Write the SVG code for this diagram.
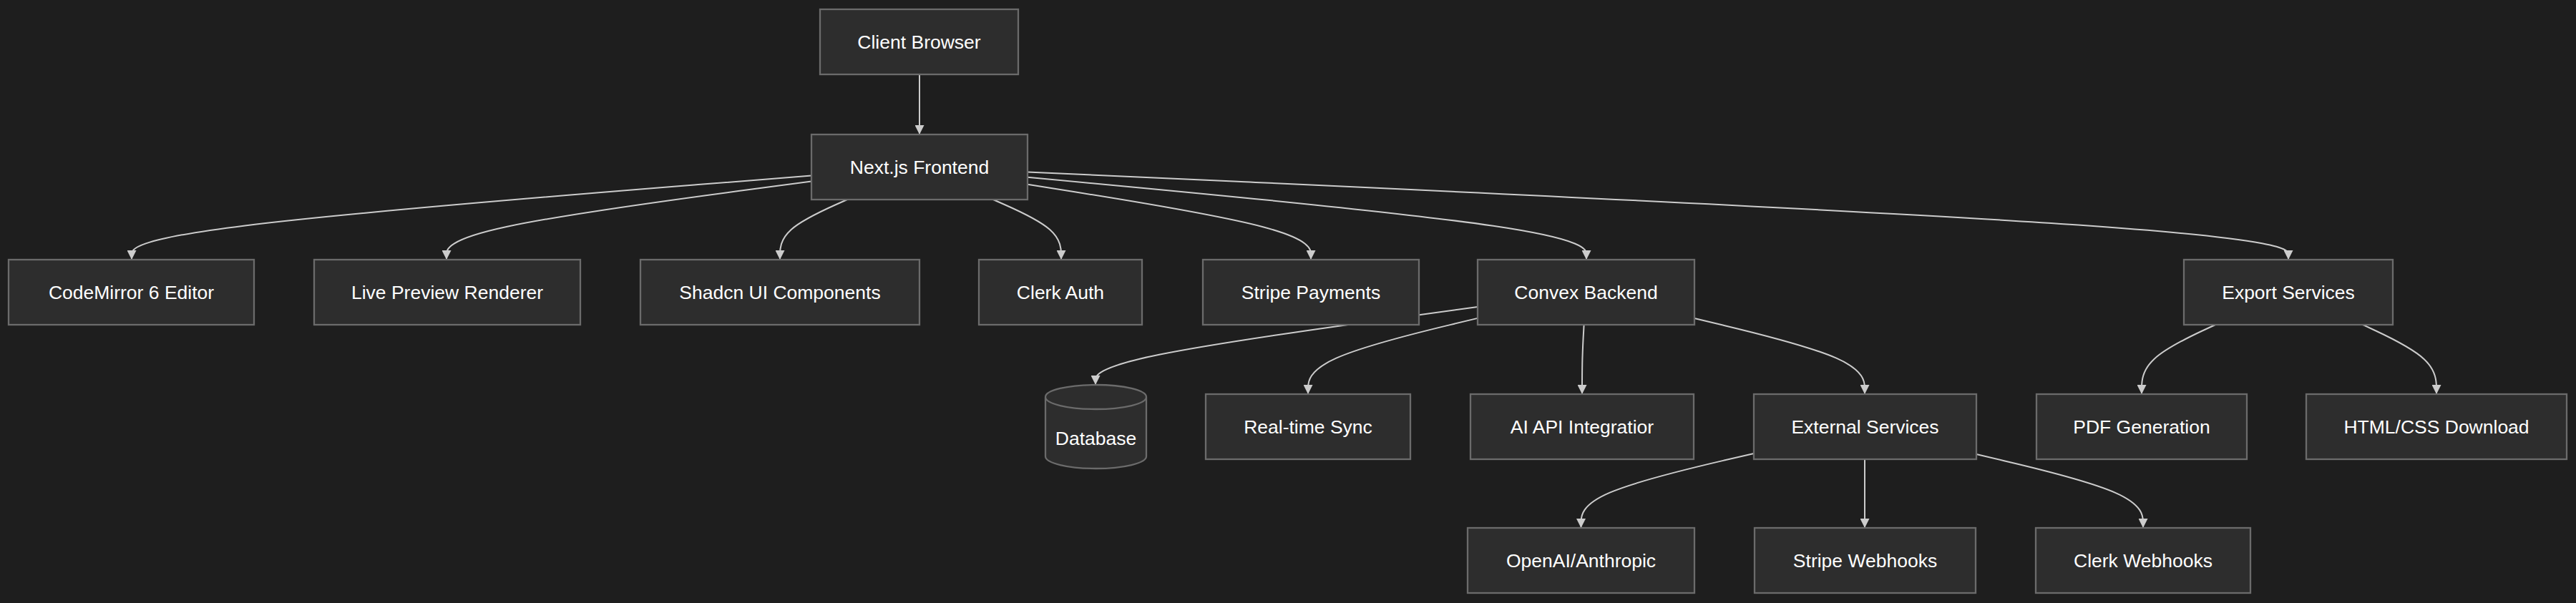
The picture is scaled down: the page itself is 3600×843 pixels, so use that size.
<svg xmlns="http://www.w3.org/2000/svg" width="3600" height="843" viewBox="0 0 3600 843">
<style>
.bg{fill:#1e1e1e}
.node rect,.node path{fill:#2d2d2d;stroke:#6b6b6b;stroke-width:2.3}
.node text{font-family:"Liberation Sans",Arial,sans-serif;font-size:26.5px;fill:#ffffff;text-anchor:middle}
.edge{fill:none;stroke:#cccccc;stroke-width:2;marker-end:url(#arrow)}
</style>
<defs>
<marker id="arrow" viewBox="0 0 10 10" refX="10" refY="5" markerUnits="userSpaceOnUse" markerWidth="13" markerHeight="13" orient="auto">
<path d="M0,0 L10,5 L0,10 z" fill="#cccccc"/>
</marker>
</defs>
<rect class="bg" x="0" y="0" width="3600" height="843"/>
<g id="connectors">
<path class="edge" d="M1285,104 L1285,188"/>
<path class="edge" d="M1134,245.5 L975.7,258.1 C817.3,270.7 500.7,295.8 342.3,315.4 C184,335 184,349 184,356 L184,363"/>
<path class="edge" d="M1134,253.5 L1049,264.8 C964,276 794,298.5 709,316.8 C624,335 624,349 624,356 L624,363"/>
<path class="edge" d="M1184,279 L1168.3,286 C1152.7,293 1121.3,307 1105.7,321 C1090,335 1090,349 1090,356 L1090,363"/>
<path class="edge" d="M1388,279 L1403.8,286 C1419.7,293 1451.3,307 1467.2,321 C1483,335 1483,349 1483,356 L1483,363"/>
<path class="edge" d="M1436,257.7 L1502,268.3 C1568,278.8 1700,299.9 1766,317.5 C1832,335 1832,349 1832,356 L1832,363"/>
<path class="edge" d="M1436,247.7 L1566.2,259.9 C1696.3,272.1 1956.7,296.6 2086.8,315.8 C2217,335 2217,349 2217,356 L2217,363"/>
<path class="edge" d="M1436,240.4 L1729.7,253.8 C2023.3,267.3 2610.7,294.1 2904.3,314.6 C3198,335 3198,349 3198,356 L3198,363"/>
<path class="edge" d="M2065,429 L1976,441.2 C1887,453.3 1709,477.7 1620,495.8 C1531,514 1531,526 1531,532 L1531,538"/>
<path class="edge" d="M2065,444.9 L2025.5,454.4 C1986,463.9 1907,483 1867.5,500.7 C1828,518.3 1828,534.7 1828,542.8 L1828,551"/>
<path class="edge" d="M2213.6,454 L2213.2,462 C2212.7,470 2211.9,486 2211.4,502.2 C2211,518.3 2211,534.7 2211,542.8 L2211,551"/>
<path class="edge" d="M2368,445 L2407.7,454.5 C2447.3,464 2526.7,483 2566.3,500.7 C2606,518.3 2606,534.7 2606,542.8 L2606,551"/>
<path class="edge" d="M3096,454 L3078.8,462 C3061.7,470 3027.3,486 3010.2,502.2 C2993,518.3 2993,534.7 2993,542.8 L2993,551"/>
<path class="edge" d="M3302,454 L3319.2,462 C3336.3,470 3370.7,486 3387.8,502.2 C3405,518.3 3405,534.7 3405,542.8 L3405,551"/>
<path class="edge" d="M2451,634 L2410.8,643.3 C2370.5,652.7 2290,671.3 2249.8,688.7 C2209.5,706 2209.5,722 2209.5,730 L2209.5,738"/>
<path class="edge" d="M2606,642 L2606,738"/>
<path class="edge" d="M2762,635 L2800.8,644.2 C2839.7,653.3 2917.3,671.7 2956.2,688.8 C2995,706 2995,722 2995,730 L2995,738"/>
</g>
<g id="client-browser" class="node"><rect x="1146" y="13" width="277" height="91"/><text x="1284.5" y="67.5">Client Browser</text></g>
<g id="nextjs-frontend" class="node"><rect x="1134" y="188" width="302" height="91"/><text x="1285" y="242.5">Next.js Frontend</text></g>
<g id="codemirror-editor" class="node"><rect x="12" y="363" width="343" height="91"/><text x="183.5" y="417.5">CodeMirror 6 Editor</text></g>
<g id="live-preview" class="node"><rect x="439" y="363" width="372" height="91"/><text x="625" y="417.5">Live Preview Renderer</text></g>
<g id="shadcn-ui" class="node"><rect x="895" y="363" width="390" height="91"/><text x="1090" y="417.5">Shadcn UI Components</text></g>
<g id="clerk-auth" class="node"><rect x="1368" y="363" width="228" height="91"/><text x="1482" y="417.5">Clerk Auth</text></g>
<g id="stripe-payments" class="node"><rect x="1681" y="363" width="302" height="91"/><text x="1832" y="417.5">Stripe Payments</text></g>
<g id="convex-backend" class="node"><rect x="2065" y="363" width="303" height="91"/><text x="2216.5" y="417.5">Convex Backend</text></g>
<g id="export-services" class="node"><rect x="3052" y="363" width="292" height="91"/><text x="3198" y="417.5">Export Services</text></g>
<g id="database" class="node"><path d="M1461,555 a70.5,17 0 0 0 141,0 a70.5,17 0 0 0 -141,0 l0,83 a70.5,17 0 0 0 141,0 l0,-83"/><text x="1531.5" y="622">Database</text></g>
<g id="realtime-sync" class="node"><rect x="1685" y="551" width="286" height="91"/><text x="1828" y="605.5">Real-time Sync</text></g>
<g id="ai-api" class="node"><rect x="2055" y="551" width="312" height="91"/><text x="2211" y="605.5">AI API Integratior</text></g>
<g id="external-services" class="node"><rect x="2451" y="551" width="311" height="91"/><text x="2606.5" y="605.5">External Services</text></g>
<g id="pdf-generation" class="node"><rect x="2846" y="551" width="294" height="91"/><text x="2993" y="605.5">PDF Generation</text></g>
<g id="html-css-download" class="node"><rect x="3223" y="551" width="364" height="91"/><text x="3405" y="605.5">HTML/CSS Download</text></g>
<g id="openai-anthropic" class="node"><rect x="2051" y="738" width="317" height="91"/><text x="2209.5" y="793">OpenAI/Anthropic</text></g>
<g id="stripe-webhooks" class="node"><rect x="2452" y="738" width="309" height="91"/><text x="2606.5" y="793">Stripe Webhooks</text></g>
<g id="clerk-webhooks" class="node"><rect x="2845" y="738" width="300" height="91"/><text x="2995" y="793">Clerk Webhooks</text></g>
</svg>
